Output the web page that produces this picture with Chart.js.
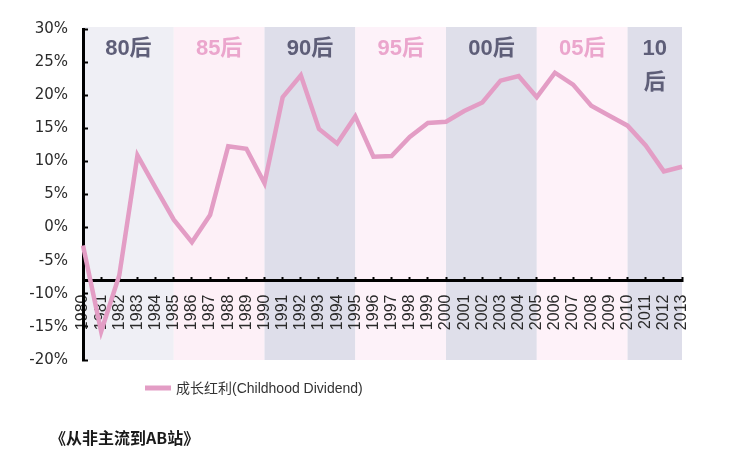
<!DOCTYPE html>
<html>
<head>
<meta charset="utf-8">
<script src="https://cdn.jsdelivr.net/npm/chart.js@4"></script>
<style>
  html, body { margin: 0; padding: 0; background: #fff; }
  #wrap { position: relative; width: 745px; height: 466px; }
</style>
</head>
<body>
<div id="wrap"><canvas id="grafico"></canvas></div>
<script>
// años en el eje x
const anios = ['1980', '1981', '1982', '1983', '1984', '1985', '1986', '1987', '1988', '1989',
    '1990', '1991', '1992', '1993', '1994', '1995', '1996', '1997', '1998', '1999',
    '2000', '2001', '2002', '2003', '2004', '2005', '2006', '2007', '2008', '2009',
    '2010', '2011', '2012', '2013'];

// 成长红利 (%)
const dividendo = [-2.7, -15.7, -7.2, 10.9, 6.0, 1.2, -2.2, 1.9, 12.3, 11.9,
    6.7, 19.7, 23.0, 14.9, 12.7, 16.8, 10.7, 10.8, 13.7, 15.8,
    16.0, 17.6, 18.9, 22.2, 22.9, 19.7, 23.4, 21.6, 18.4, 16.9,
    15.4, 12.4, 8.5, 9.2];

// franjas generacionales
const franjaInicio = ['1980', '1985', '1990', '1995', '2000', '2005', '2010'];
const franjaFin = ['1985', '1990', '1995', '2000', '2005', '2010', '2013'];
const franjaTexto = ['80后', '85后', '90后', '95后', '00后', '05后', ['10', '后']];

const ticksY = [-20, -15, -10, -5, 0, 5, 10, 15, 20, 25, 30];
const cruceEjeX = -8;

const rosa = '#e39dc5';
const fondoFranja = ['#efeff5', '#fdf0f7', '#dedeea', '#fdf2f9', '#dfdfea', '#fef2f9', '#dedeea'];
const colorTexto = ['#5e5e78', '#eba6cd', '#5e5e78', '#eba6cd', '#5e5e78', '#eba6cd', '#5e5e78'];

// franjas y etiquetas: antes de ejes y línea
const pluginFranjas = {
    id: 'franjas',
    beforeDraw(chart) {
        const { ctx, chartArea, scales } = chart;
        const x = scales.x;
        ctx.save();
        franjaInicio.forEach((ini, i) => {
            const x1 = x.getPixelForValue(anios.indexOf(ini));
            const x2 = x.getPixelForValue(anios.indexOf(franjaFin[i]));
            ctx.fillStyle = fondoFranja[i];
            ctx.fillRect(x1, chartArea.top - 2, x2 - x1, chartArea.bottom - chartArea.top + 2);
        });
        ctx.font = 'bold 22px "Liberation Sans", "Noto Sans CJK SC", sans-serif';
        ctx.textAlign = 'center';
        ctx.textBaseline = 'middle';
        franjaInicio.forEach((ini, i) => {
            const x1 = x.getPixelForValue(anios.indexOf(ini));
            const x2 = x.getPixelForValue(anios.indexOf(franjaFin[i]));
            const lineas = Array.isArray(franjaTexto[i]) ? franjaTexto[i] : [franjaTexto[i]];
            ctx.fillStyle = colorTexto[i];
            lineas.forEach((t, j) => {
                ctx.fillText(t, (x1 + x2) / 2, chartArea.top + 20 + j * 34);
            });
        });
        ctx.restore();
    },
    afterDraw(chart) {
        const { ctx } = chart;
        const ds = chart.data.datasets[0];
        ctx.save();
        // leyenda
        ctx.strokeStyle = ds.borderColor;
        ctx.lineWidth = 5;
        ctx.beginPath();
        ctx.moveTo(145, 388);
        ctx.lineTo(171, 388);
        ctx.stroke();
        ctx.fillStyle = '#333';
        ctx.font = '14px "Liberation Sans", "Noto Sans CJK SC", sans-serif';
        ctx.textAlign = 'left';
        ctx.textBaseline = 'middle';
        ctx.fillText(ds.label, 176, 389);
        // fuente
        ctx.fillStyle = '#1a1a1a';
        ctx.font = 'bold 16px "Noto Sans CJK SC", sans-serif';
        ctx.fillText('《从非主流到AB站》', 50, 438);
        ctx.restore();
    }
};

const ctx = document.getElementById('grafico').getContext('2d');
window.grafico = new Chart(ctx, {
    type: 'line',
    data: {
        labels: anios,
        datasets: [{
            label: '成长红利(Childhood Dividend)',
            data: dividendo,
            borderColor: rosa,
            backgroundColor: rosa,
            borderWidth: 4.5,
            pointRadius: 0,
            tension: 0,
            fill: false
        }]
    },
    options: {
        responsive: true,
        maintainAspectRatio: false,
        animation: false,
        layout: { padding: { top: 24, right: 63, bottom: 106, left: 0 } },
        plugins: {
            legend: { display: false },
            tooltip: { enabled: false }
        },
        scales: {
            x: {
                type: 'category',
                offset: false,
                position: { y: cruceEjeX },
                grid: { drawOnChartArea: false, tickLength: -5, tickWidth: 2, tickColor: '#000' },
                border: { color: '#000', width: 3 },
                ticks: {
                    autoSkip: false,
                    minRotation: 90,
                    maxRotation: 90,
                    padding: 19,
                    color: '#2a2a2a',
                    font: { family: '"Liberation Sans", sans-serif', size: 16 }
                }
            },
            y: {
                min: -20,
                max: 30,
                afterFit(scale) { scale.width = 83; },
                afterBuildTicks(scale) { scale.ticks = ticksY.map(v => ({ value: v })); },
                grid: { drawOnChartArea: false, tickLength: -5, tickWidth: 2, tickColor: '#000' },
                border: { color: '#000', width: 3 },
                ticks: {
                    padding: 20,
                    color: '#2a2a2a',
                    font: { family: '"DejaVu Sans", sans-serif', size: 15 },
                    callback: v => v + '%'
                }
            }
        }
    },
    plugins: [pluginFranjas]
});
</script>
</body>
</html>
